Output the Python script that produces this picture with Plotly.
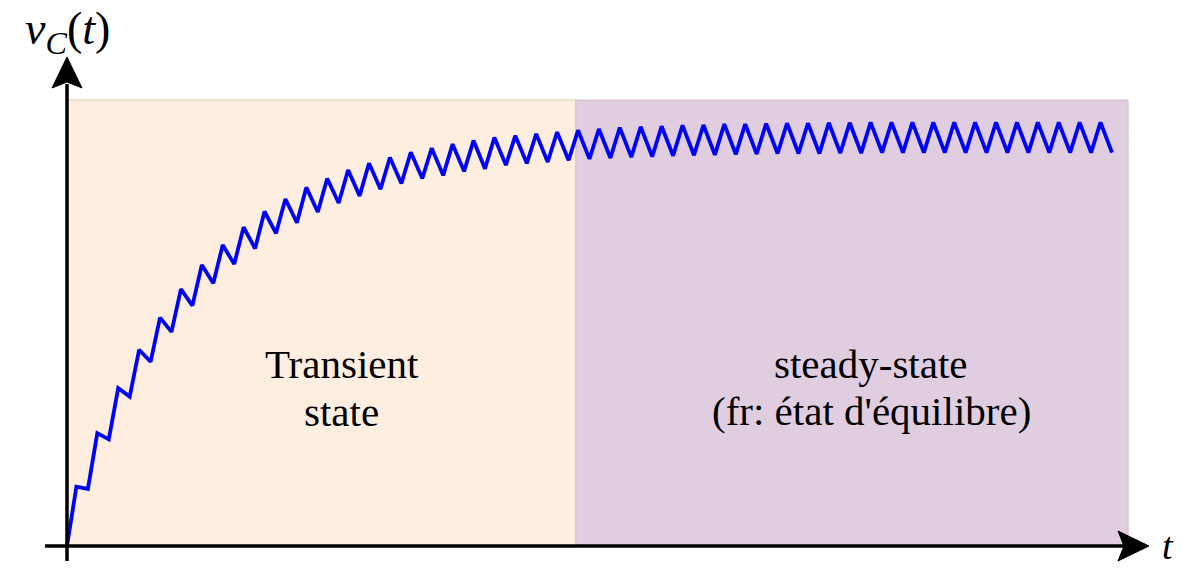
import plotly.graph_objects as go

# ---- data (capacitor voltage, normalised so the shaded top = 1) ----
# local maxima of v_C at the end of each charging half-period (k = 0..49)
peak_values = [0.133, 0.253, 0.354, 0.440, 0.512, 0.576, 0.630, 0.675, 0.715, 0.750,
               0.778, 0.804, 0.824, 0.843, 0.858, 0.871, 0.883, 0.892, 0.901, 0.909,
               0.916, 0.920, 0.924, 0.928, 0.932, 0.935, 0.938, 0.940, 0.941, 0.943,
               0.944, 0.946, 0.946, 0.947, 0.948, 0.948, 0.949, 0.949, 0.950, 0.950,
               0.950, 0.950, 0.950, 0.950, 0.950, 0.950, 0.950, 0.950, 0.950, 0.950]
# local minima of v_C at the end of each period (j = 1..50)
trough_values = [0.128, 0.239, 0.335, 0.413, 0.480, 0.539, 0.589, 0.632, 0.667, 0.701,
                 0.725, 0.749, 0.769, 0.785, 0.800, 0.813, 0.824, 0.831, 0.840, 0.846,
                 0.854, 0.858, 0.861, 0.865, 0.868, 0.870, 0.872, 0.873, 0.875, 0.876,
                 0.877, 0.878, 0.879, 0.880, 0.880, 0.880, 0.881, 0.881, 0.882, 0.882,
                 0.882, 0.882, 0.882, 0.882, 0.882, 0.882, 0.882, 0.882, 0.882, 0.882]
switch_period = 1.0      # one ripple period (time unit)
charge_fraction = 0.45   # part of the period spent charging
transient_end = 24.35    # end of transient region (time units)
steady_end = 50.77       # right edge of steady-state region
region_top = 1.0

region_labels = ["Transient", "state"]
steady_labels = ["steady-state", "(fr: état d'équilibre)"]

# build the polyline: start at 0, then peak/trough alternation
t_vals = [0.0]
v_vals = [0.0]
for k in range(len(peak_values)):
    t_vals.append(k * switch_period + charge_fraction * switch_period)
    v_vals.append(peak_values[k])
    t_vals.append((k + 1) * switch_period)
    v_vals.append(trough_values[k])

W, H = 1186, 568
# pixel layout: origin at (67, 546); 20.9 px per period; 446 px per unit of voltage
x0_px, y0_px, px_per_t, px_per_v = 67.0, 546.0, 20.9, 446.0
x_range = [-x0_px / px_per_t, (W - x0_px) / px_per_t]
y_range = [-(H - y0_px) / px_per_v, y0_px / px_per_v]

def tx(px):
    return (px - x0_px) / px_per_t

def vy(py):
    return (y0_px - py) / px_per_v

fig = go.Figure()
fig.add_trace(go.Scatter(x=t_vals, y=v_vals, mode="lines",
                         line=dict(color="#0000FF", width=3.8),
                         hoverinfo="skip", showlegend=False))

shapes = [
    dict(type="rect", xref="x", yref="y", x0=0, x1=transient_end, y0=0, y1=region_top,
         fillcolor="#FEEEDF", line=dict(color="#DCC8A6", width=1), layer="below"),
    dict(type="rect", xref="x", yref="y", x0=transient_end, x1=steady_end, y0=0, y1=region_top,
         fillcolor="#E0CEE0", line=dict(color="#D8B8C8", width=1), layer="below"),
    # axes
    dict(type="line", xref="x", yref="y", x0=tx(45), x1=tx(1128), y0=0, y1=0,
         line=dict(color="black", width=3.5), layer="above"),
    dict(type="line", xref="x", yref="y", x0=0, x1=0, y0=vy(561), y1=vy(84),
         line=dict(color="black", width=3.5), layer="above"),
    # arrow heads (pixel-sized paths anchored at the tips)
    dict(type="path", xref="x", yref="y", xsizemode="pixel", ysizemode="pixel",
         xanchor=tx(1149), yanchor=0,
         path="M 0 0 L -31 15 L -25 0 L -31 -15 Z",
         fillcolor="black", line=dict(color="black", width=1), layer="above"),
    dict(type="path", xref="x", yref="y", xsizemode="pixel", ysizemode="pixel",
         xanchor=0, yanchor=vy(57),
         path="M 0 0 L 15 -31 L 0 -25 L -15 -31 Z",
         fillcolor="black", line=dict(color="black", width=1), layer="above"),
]

serif = "Liberation Serif, Times New Roman, serif"
annotations = [
    dict(x=0, y=vy(32), xref="x", yref="y", showarrow=False,
         text="<i>v</i><sub><i>C</i></sub>(<i>t</i>)",
         font=dict(family=serif, size=46, color="black"), xanchor="center", yanchor="middle"),
    dict(x=tx(1168), y=0, xref="x", yref="paper", showarrow=False, text="<i>t</i>",
         font=dict(family=serif, size=38, color="black"), xanchor="center", yanchor="bottom",
         borderpad=0),
]
for i, lab in enumerate(region_labels):
    annotations.append(dict(x=tx(341.5), y=vy(364 + 48 * i), xref="x", yref="y",
                            showarrow=False, text=lab,
                            font=dict(family=serif, size=41, color="black"),
                            xanchor="center", yanchor="middle"))
for i, lab in enumerate(steady_labels):
    annotations.append(dict(x=tx(871), y=vy(364 + 47 * i), xref="x", yref="y",
                            showarrow=False, text=lab,
                            font=dict(family=serif, size=41, color="black"),
                            xanchor="center", yanchor="middle"))

fig.update_layout(
    width=W, height=H, margin=dict(l=0, r=0, t=0, b=0),
    paper_bgcolor="white", plot_bgcolor="white",
    xaxis=dict(range=x_range, visible=False, fixedrange=True),
    yaxis=dict(range=y_range, visible=False, fixedrange=True),
    shapes=shapes, annotations=annotations, showlegend=False,
)
fig.write_html("out.html", config={"displayModeBar": False},
               post_script="document.body.style.margin='0';document.body.style.overflow='hidden';")
